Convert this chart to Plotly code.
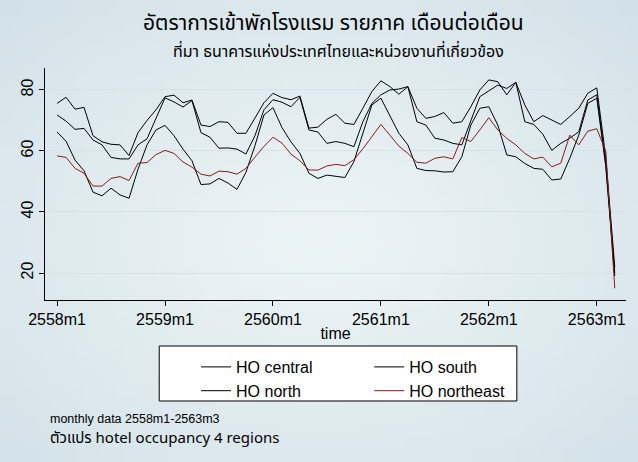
import base64
import struct
import zlib
import plotly.graph_objects as go

months = list(range(63))
tick_vals = [0, 12, 24, 36, 48, 60]
tick_text = ["2558m1", "2559m1", "2560m1", "2561m1", "2562m1", "2563m1"]

ho_central = [75.6, 77.6, 73.7, 74.3, 65.0, 63.0, 62.2, 62.0, 58.5, 66.0,
              70.0, 73.5, 77.8, 78.3, 75.8, 76.7, 68.5, 68.0, 69.6, 69.4,
              65.8, 65.8, 70.8, 75.8, 78.9, 77.5, 76.8, 78.0, 67.5, 67.8,
              70.4, 72.0, 69.1, 68.7, 74.0, 79.5, 83.0, 81.1, 78.6, 81.1,
              74.0, 70.7, 71.3, 72.6, 69.1, 69.6, 74.5, 80.0, 83.3, 82.7,
              78.4, 82.5, 75.1, 69.6, 71.6, 70.2, 68.7, 71.3, 74.0, 78.9,
              80.7, 58.0, 22.0]
ho_south = [71.8, 69.8, 67.1, 67.4, 63.6, 62.0, 57.9, 57.4, 57.4, 62.0,
            64.0, 71.0, 77.4, 76.1, 74.4, 76.5, 66.0, 64.5, 60.9, 61.0,
            60.6, 59.0, 65.0, 73.5, 76.8, 76.0, 74.5, 77.6, 66.9, 66.2,
            62.5, 63.1, 62.5, 61.4, 69.6, 75.6, 78.4, 80.0, 80.3, 81.1,
            69.6, 68.5, 64.2, 63.6, 62.5, 62.0, 69.6, 77.8, 79.7, 81.6,
            80.5, 82.5, 69.6, 68.7, 65.5, 60.2, 62.5, 64.2, 66.3, 76.7,
            78.4, 56.0, 20.0]
ho_north = [66.2, 63.2, 57.0, 53.5, 46.5, 45.3, 47.8, 45.6, 44.5, 54.0,
            62.0, 66.9, 68.4, 65.0, 60.6, 56.8, 49.0, 49.2, 51.0, 49.5,
            47.4, 53.0, 61.7, 71.8, 74.2, 67.7, 63.0, 59.2, 52.7, 51.0,
            52.1, 51.6, 51.3, 56.5, 65.8, 75.1, 77.3, 71.8, 65.8, 62.0,
            54.3, 53.6, 53.5, 53.1, 53.2, 58.1, 68.5, 74.0, 74.5, 68.5,
            58.7, 58.1, 55.9, 54.3, 54.0, 50.5, 50.8, 57.6, 65.2, 75.6,
            77.3, 55.0, 19.0]
ho_northeast = [58.4, 57.9, 54.3, 52.7, 48.5, 48.5, 51.0, 51.6, 50.3, 56.0,
                56.2, 58.8, 60.2, 59.2, 56.4, 54.7, 52.4, 51.8, 53.4, 53.2,
                52.4, 54.3, 58.0, 61.5, 64.5, 62.6, 59.0, 56.8, 53.8, 53.7,
                55.1, 55.6, 55.2, 57.1, 60.7, 64.7, 68.7, 65.2, 61.6, 59.2,
                56.3, 56.0, 57.6, 58.1, 57.4, 64.4, 63.1, 66.9, 70.9, 66.9,
                64.1, 62.0, 59.2, 57.4, 58.0, 54.8, 56.0, 65.2, 62.0, 66.5,
                67.3, 60.0, 15.0]

series_names = ["HO central", "HO south", "HO north", "HO northeast"]
series_vals = [ho_central, ho_south, ho_north, ho_northeast]
series_colors = ["#000000", "#000000", "#000000", "#8B1A1A"]
series_legend = ["legend", "legend2", "legend", "legend2"]

FONT = "Liberation Sans, Arial, sans-serif"
THAI = "Noto Sans Thai, Tahoma, Loma, Garuda, Liberation Sans, sans-serif"


def gradient_png(w, h, inner=(235, 243, 245), outer=(210, 225, 232)):
    rows = []
    for j in range(h):
        row = bytearray([0])
        for i in range(w):
            dx = (i + 0.5) / w - 0.5
            dy = (j + 0.5) / h - 0.52
            t = min(1.0, ((dx * dx + dy * dy) ** 0.5) / 0.707)
            t = t ** 1.3
            row.extend(int(round(a + (b - a) * t)) for a, b in zip(inner, outer))
        rows.append(bytes(row))
    raw = b"".join(rows)

    def chunk(tag, data):
        c = struct.pack(">I", len(data)) + tag + data
        return c + struct.pack(">I", zlib.crc32(tag + data) & 0xFFFFFFFF)

    png = (b"\x89PNG\r\n\x1a\n"
           + chunk(b"IHDR", struct.pack(">IIBBBBB", w, h, 8, 2, 0, 0, 0))
           + chunk(b"IDAT", zlib.compress(raw, 9))
           + chunk(b"IEND", b""))
    return "data:image/png;base64," + base64.b64encode(png).decode()


fig = go.Figure()
for name, vals, col, lg in zip(series_names, series_vals, series_colors, series_legend):
    fig.add_trace(go.Scatter(x=months, y=vals, mode="lines", name=name,
                             line=dict(color=col, width=1), legend=lg))

bg = "#DFEAEE"
fig.update_layout(
    width=638, height=462,
    margin=dict(l=45, r=12, t=68, b=162),
    paper_bgcolor=bg, plot_bgcolor="white",
    font=dict(family=FONT, size=16, color="black"),
    showlegend=True,
    legend=dict(x=0.26, y=-0.2155, xanchor="left", yanchor="top",
                bgcolor="rgba(0,0,0,0)", borderwidth=0,
                font=dict(size=16), tracegroupgap=0),
    legend2=dict(x=0.558, y=-0.2155, xanchor="left", yanchor="top",
                 bgcolor="rgba(0,0,0,0)", borderwidth=0,
                 font=dict(size=16), tracegroupgap=0),
    xaxis=dict(range=[-1.34, 63.25], tickvals=tick_vals, ticktext=tick_text,
               showgrid=False, zeroline=False, showline=True, linecolor="black",
               linewidth=1, ticks="outside", ticklen=5, tickcolor="black",
               tickfont=dict(size=16),
               title=dict(text="time", font=dict(size=16), standoff=0)),
    yaxis=dict(range=[11.15, 87.2], tickvals=[20, 40, 60, 80],
               showgrid=True, gridcolor="#D5E2E9", gridwidth=1, zeroline=False,
               showline=True, linecolor="black", linewidth=1,
               ticks="outside", ticklen=5, tickcolor="black",
               tickangle=-90, tickfont=dict(size=16)),
    images=[dict(source=gradient_png(64, 46), xref="paper", yref="paper",
                 x=-45 / 580, y=300 / 232, sizex=638 / 580, sizey=462 / 232,
                 xanchor="left", yanchor="top", sizing="stretch", layer="below")],
    shapes=[dict(type="rect", xref="paper", yref="paper",
                 x0=0.1966, x1=0.8121, y0=-0.1983, y1=-0.4353,
                 fillcolor="white", line=dict(color="black", width=1),
                 layer="below")],
    annotations=[
        dict(text="อัตราการเข้าพักโรงแรม รายภาค เดือนต่อเดือน", xref="paper", yref="paper",
             x=0.497, y=1.19, xanchor="center", yanchor="middle", showarrow=False,
             font=dict(family=THAI, size=21)),
        dict(text="ที่มา ธนาคารแห่งประเทศไทยและหน่วยงานที่เกี่ยวข้อง", xref="paper", yref="paper",
             x=0.505, y=1.068, xanchor="center", yanchor="middle", showarrow=False,
             font=dict(family=THAI, size=16)),
        dict(text="monthly data 2558m1-2563m3", xref="paper", yref="paper",
             x=0.005, y=-0.513, xanchor="left", yanchor="middle", showarrow=False,
             font=dict(family=FONT, size=12.5)),
        dict(text="ตัวแปร hotel occupancy 4 regions", xref="paper", yref="paper",
             x=0.005, y=-0.599, xanchor="left", yanchor="middle", showarrow=False,
             font=dict(family=THAI, size=15)),
    ],
)

fig.write_html("out.html")
